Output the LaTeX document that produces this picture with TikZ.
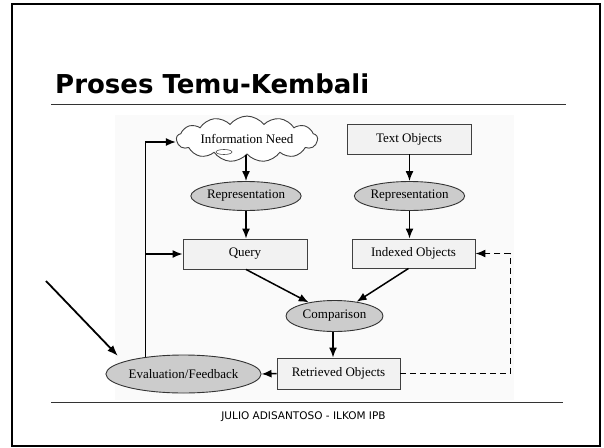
\documentclass[tikz,border=0pt]{standalone}
\usepackage{fontspec}
\setmainfont{Liberation Serif}
\newfontfamily\titlefont{DejaVu Sans}
\usetikzlibrary{shapes.geometric,shapes.symbols,arrows.meta}
\begin{document}
\begin{tikzpicture}[x=1pt,y=-1pt,
  boxnode/.style={draw=black!75,line width=0.9pt,fill=black!5,minimum width=124pt,minimum height=30pt,inner sep=0pt,font=\fontsize{13}{15}\selectfont},
  ellnode/.style={ellipse,draw=black!80,line width=0.9pt,fill=black!20,inner sep=0pt,font=\fontsize{13}{15}\selectfont},
  conn/.style={line width=1.5pt,-{Latex[length=10pt,width=8pt]}},
  dashconn/.style={conn,dash pattern=on 6pt off 4pt}]
\useasboundingbox (0,0) rectangle (604,447);
\fill[white] (0,0) rectangle (604,447);
\draw[line width=1.8pt] (12,4) rectangle (600,446);
% title
\node[anchor=base west,inner sep=0pt,font=\titlefont\bfseries\fontsize{26}{30}\selectfont] (title) at (55,93) {Proses Temu-Kembali};
\draw[line width=0.8pt,black!80] (51,104) -- (566,104);
% diagram background
\fill[black!2] (115,115) rectangle (514,400);
% nodes
\node[cloud,cloud puffs=13,cloud puff arc=105,aspect=4.2,draw=black!75,line width=0.9pt,fill=white,minimum width=141pt,minimum height=34pt,inner sep=0pt,font=\fontsize{13}{15}\selectfont] (need) at (247,139) {Information Need};
\draw[black!70,line width=0.6pt] (224,152) ellipse (8pt and 2.5pt);
\node[boxnode] (text) at (409,139) {Text Objects};
\node[ellnode,minimum width=98pt,minimum height=29pt] (rep1) at (246,196) {Representation};
\node[ellnode,minimum width=97pt,minimum height=29pt] (rep2) at (409.5,196) {Representation};
\node[boxnode] (query) at (245,254) {Query};
\node[boxnode,minimum width=123pt,minimum height=29pt] (indexed) at (413.5,253.5) {Indexed Objects};
\node[ellnode,minimum width=97pt,minimum height=31pt] (comp) at (334.5,316) {Comparison};
\node[boxnode,minimum width=123pt,minimum height=31pt] (retr) at (338.5,373.5) {Retrieved Objects};
\node[ellnode,minimum width=131pt,minimum height=38pt] (eval) at (183.5,374) {Evaluation/Feedback};
% footer
\draw[line width=0.8pt,black!80] (51,402) -- (563,402);
\node[inner sep=0pt,font=\titlefont\fontsize{10.5}{12}\selectfont] (footer) at (303.5,417) {JULIO ADISANTOSO - ILKOM IPB};
% connectors
\draw[conn] (need.south -| rep1.north) -- (rep1.north);
\draw[conn] (text.south -| rep2.north) -- (rep2.north);
\draw[conn] (rep1.south) -- (rep1.south |- query.north);
\draw[conn] (rep2.south) -- (rep2.south |- indexed.north);
\draw[conn] ([xshift=1pt]query.south) -- (comp);
\draw[conn] ([xshift=-5pt]indexed.south) -- (comp);
\draw[conn] (comp.south -| 333,0) -- (retr.north -| 333,0);
\draw[conn] (retr.west) -- (eval.east);
\draw[conn] (eval.156) |- ([yshift=-3pt]need.west);
\draw[conn] (eval.156 |- query.west) -- (query.west);
\draw[dashconn] (retr.east) -- ++(110,0) |- (indexed.east);
\coordinate (bigstart) at (46,281);
\coordinate (bigend) at (118,356);
\draw[line width=1.8pt,-{Latex[length=11pt,width=8pt]}] (bigstart) -- (bigend);
\end{tikzpicture}
\end{document}
